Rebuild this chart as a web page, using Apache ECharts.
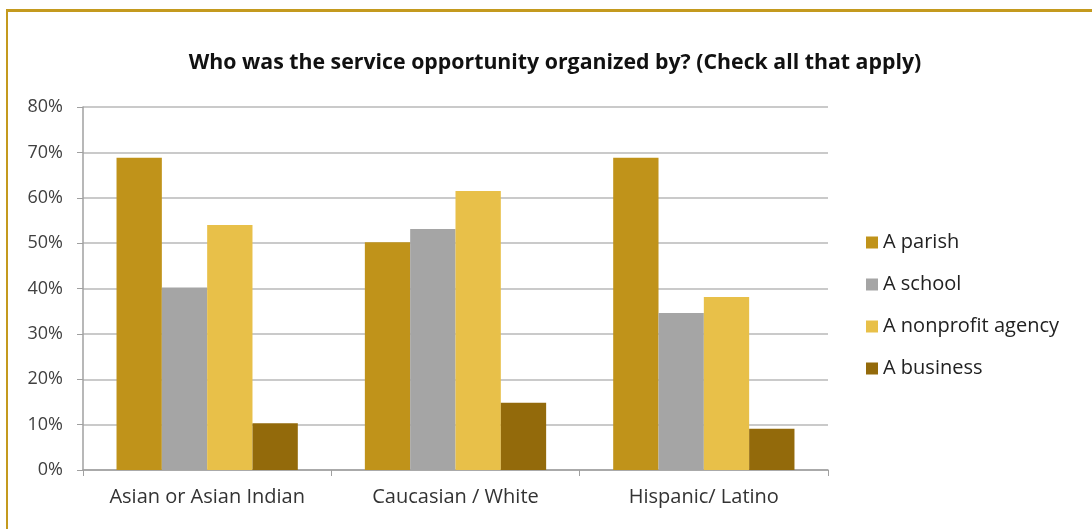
<!DOCTYPE html>
<html><head><meta charset="utf-8">
<script src="https://cdn.jsdelivr.net/npm/echarts@6/dist/echarts.min.js"></script>
<style>
html,body{margin:0;padding:0;background:#fff;}
#frame{position:absolute;left:6px;top:9px;width:1086px;height:520px;border-left:2px solid #C49A1E;border-top:3px solid #C49A1E;box-sizing:border-box;}
#c{position:absolute;left:0;top:0;width:1092px;height:529px;}
</style></head>
<body>
<div id="frame"></div>
<div id="c"></div>
<script>
const categories = ["Asian or Asian Indian", "Caucasian / White", "Hispanic/ Latino"];
const seriesNames = ["A parish", "A school", "A nonprofit agency", "A business"];
const parish = [68.8, 50.2, 68.8];
const school = [40.2, 53.1, 34.6];
const nonprofit = [54.0, 61.5, 38.1];
const business = [10.3, 14.8, 9.1];
const yTicks = [0, 10, 20, 30, 40, 50, 60, 70, 80];
const colors = ["#C0931A", "#A5A5A5", "#E8C049", "#936A0B"];
const values = [parish, school, nonprofit, business];

const chart = echarts.init(document.getElementById('c'));
const font = "'Open Sans', Lato, sans-serif";
chart.setOption({
  animation: false,
  backgroundColor: 'transparent',
  title: {
    text: "Who was the service opportunity organized by? (Check all that apply)",
    left: 550, top: 47, textAlign: 'center',
    textStyle: {fontFamily: font, fontWeight: 'bold', fontSize: 21.3, color: '#111'}
  },
  legend: {
    orient: 'vertical', left: 866, top: 229, itemGap: 15, padding: 0,
    itemWidth: 12, itemHeight: 12, icon: 'rect',
    textStyle: {fontFamily: font, fontSize: 20, color: '#222', lineHeight: 27},
    data: seriesNames
  },
  grid: {left: 83, top: 107, width: 745, height: 363, containLabel: false},
  xAxis: {
    type: 'category', data: categories,
    axisLine: {lineStyle: {color: '#A0A0A0', width: 1.5}},
    axisTick: {show: true, interval: 0, length: 6, lineStyle: {color: '#A0A0A0'}},
    axisLabel: {interval: 0, hideOverlap: false, fontFamily: font, fontSize: 20, color: '#333', margin: 17}
  },
  yAxis: {
    type: 'value', min: 0, max: 80, interval: 10,
    axisLine: {show: true, lineStyle: {color: '#A0A0A0', width: 1.5}},
    axisTick: {show: true, length: 6, lineStyle: {color: '#A0A0A0'}},
    splitLine: {lineStyle: {color: '#B8B8B8', width: 1.5}},
    axisLabel: {fontFamily: font, fontSize: 18, color: '#404040', margin: 20,
      formatter: v => yTicks.includes(v) ? v + '%' : ''}
  },
  series: seriesNames.map((n, i) => ({
    name: n, type: 'bar', data: values[i],
    barGap: '0%', barCategoryGap: '27%',
    itemStyle: {color: colors[i]}
  }))
});
</script>
</body></html>
